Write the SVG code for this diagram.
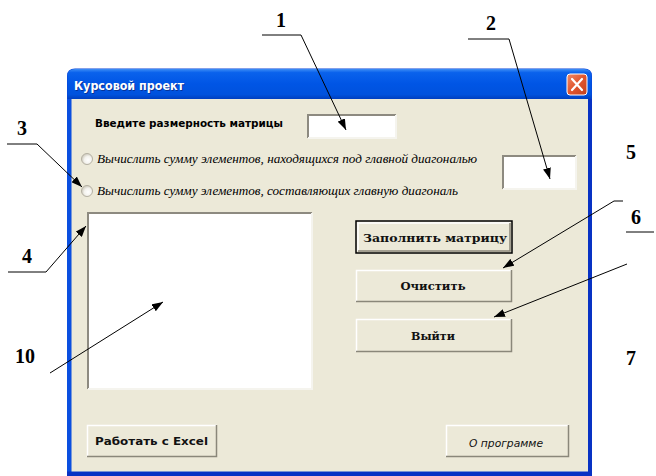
<svg xmlns="http://www.w3.org/2000/svg" width="656" height="476" viewBox="0 0 656 476">
<defs>
<linearGradient id="tb" x1="0" y1="0" x2="0" y2="1">
<stop offset="0" stop-color="#3D8DF5"/>
<stop offset="0.12" stop-color="#0A62EC"/>
<stop offset="0.5" stop-color="#0055E5"/>
<stop offset="0.85" stop-color="#0052DD"/>
<stop offset="1" stop-color="#003FBF"/>
</linearGradient>
<linearGradient id="cb" x1="0" y1="0" x2="1" y2="1">
<stop offset="0" stop-color="#F08B68"/>
<stop offset="0.5" stop-color="#E0552E"/>
<stop offset="1" stop-color="#C2401C"/>
</linearGradient>
<radialGradient id="rg" cx="0.6" cy="0.6" r="0.6">
<stop offset="0" stop-color="#FFFFFF"/>
<stop offset="0.55" stop-color="#F4F3EE"/>
<stop offset="1" stop-color="#CFCBBE"/>
</radialGradient>
<marker id="ah" markerUnits="userSpaceOnUse" markerWidth="11" markerHeight="8" refX="11" refY="4" orient="auto">
<path d="M0,0 L11,4 L0,8 z" fill="#000"/>
</marker>
<style>
.num{font-family:"Liberation Serif","Times New Roman",serif;font-weight:bold;font-size:20px;fill:#000;text-anchor:middle}
.lead{fill:none;stroke:#000;stroke-width:1}
.face{fill:#ECE9D8}
.hi{stroke:#FFFFFF;stroke-width:1.5;fill:none}
.sh{stroke:#8A877A;stroke-width:1.5;fill:none}
.btxt{font-family:"DejaVu Serif","Liberation Serif",serif;font-weight:bold;font-size:11px;fill:#111;text-anchor:middle}
.inbox{fill:#FFFFFF}
.intl{stroke:#8D8A80;stroke-width:2;fill:none}
.inbr{stroke:#F5F4EE;stroke-width:2;fill:none}
.rtxt{font-family:"Liberation Serif","Times New Roman",serif;font-style:italic;font-size:12px;fill:#000}
</style>
</defs>

<g id="window">
<path d="M67,476 L67,76 Q67,68.5 75,68.5 L584,68.5 Q592,68.5 592,76 L592,476 Z" fill="#0842D6"/>
<path d="M67.5,99 L67.5,76 Q67.5,69 75,69 L584,69 Q591.5,69 591.5,76 L591.5,99 Z" fill="url(#tb)"/>
<rect x="67" y="99" width="4.5" height="377" fill="#0A4FE0"/>
<rect x="588" y="99" width="4" height="377" fill="#0832C4"/>
<rect x="67" y="471.5" width="525" height="4.5" fill="#0832C4"/>
<rect x="71.5" y="99" width="516.5" height="372.5" fill="#ECE9D8"/>
</g>

<g id="title-bar">
<text x="75" y="91" font-family="DejaVu Sans,Verdana,sans-serif" font-weight="bold" font-size="12.5" fill="#0A1E6A" opacity="0.6" textLength="110" lengthAdjust="spacingAndGlyphs">Курсовой проект</text>
<text x="74" y="90" font-family="DejaVu Sans,Verdana,sans-serif" font-weight="bold" font-size="12.5" fill="#FFFFFF" textLength="110" lengthAdjust="spacingAndGlyphs">Курсовой проект</text>
</g>

<g id="close-button">
<rect x="567" y="74" width="20" height="21" rx="3" fill="url(#cb)" stroke="#FFFFFF" stroke-width="1"/>
<path d="M572,79 L582,90 M582,79 L572,90" stroke="#FFFFFF" stroke-width="2.2" stroke-linecap="round"/>
</g>

<g id="size-label">
<text x="95" y="127" font-family="DejaVu Sans,Verdana,sans-serif" font-weight="bold" font-size="11" fill="#000" textLength="188" lengthAdjust="spacingAndGlyphs">Введите размерность матрицы</text>
</g>

<g id="size-input">
<rect class="inbox" x="308" y="115" width="88" height="23"/>
<path class="intl" d="M308,138 L308,115 L396,115"/>
<path class="inbr" d="M396,115 L396,138 L308,138"/>
</g>

<g id="radio-below">
<circle cx="87" cy="159" r="5.5" fill="url(#rg)" stroke="#B5B1A3" stroke-width="1"/>
<text class="rtxt" x="97" y="163" textLength="380" lengthAdjust="spacingAndGlyphs">Вычислить сумму элементов, находящихся под главной диагональю</text>
</g>

<g id="radio-diagonal">
<circle cx="87" cy="191" r="5.5" fill="url(#rg)" stroke="#B5B1A3" stroke-width="1"/>
<text class="rtxt" x="97" y="195" textLength="361" lengthAdjust="spacingAndGlyphs">Вычислить сумму элементов, составляющих главную диагональ</text>
</g>

<g id="result-input">
<rect class="inbox" x="503" y="156" width="73" height="33"/>
<path class="intl" d="M503,189 L503,156 L576,156"/>
<path class="inbr" d="M576,156 L576,189 L503,189"/>
</g>

<g id="listbox">
<rect class="inbox" x="88" y="213" width="224" height="176"/>
<path class="intl" d="M88,389 L88,213 L312,213"/>
<path class="inbr" d="M312,213 L312,389 L88,389"/>
</g>

<g id="btn-fill">
<rect x="356" y="221" width="156" height="32" fill="#ECE9D8" stroke="#000" stroke-width="1.5"/>
<path class="hi" d="M358,251 L358,223 L510,223"/>
<path class="sh" d="M510,223 L510,251 L358,251"/>
<text class="btxt" x="435" y="242" textLength="144" lengthAdjust="spacingAndGlyphs">Заполнить матрицу</text>
</g>

<g id="btn-clear">
<rect class="face" x="356" y="270" width="156" height="32"/>
<path class="hi" d="M356.5,302 L356.5,270.5 L512,270.5"/>
<path class="sh" d="M511.5,270 L511.5,301.5 L356,301.5"/>
<text class="btxt" x="433" y="290" textLength="65" lengthAdjust="spacingAndGlyphs">Очистить</text>
</g>

<g id="btn-exit">
<rect class="face" x="356" y="319" width="156" height="33"/>
<path class="hi" d="M356.5,352 L356.5,319.5 L512,319.5"/>
<path class="sh" d="M511.5,319 L511.5,351.5 L356,351.5"/>
<text class="btxt" x="433" y="340" textLength="44" lengthAdjust="spacingAndGlyphs">Выйти</text>
</g>

<g id="btn-excel">
<rect class="face" x="87" y="425" width="130" height="32"/>
<path class="hi" d="M87.5,457 L87.5,425.5 L217,425.5"/>
<path class="sh" d="M216.5,425 L216.5,456.5 L87,456.5"/>
<text x="95" y="445" font-family="DejaVu Sans,Verdana,sans-serif" font-weight="bold" font-size="11" fill="#111" textLength="113" lengthAdjust="spacingAndGlyphs">Работать с Excel</text>
</g>

<g id="btn-about">
<rect class="face" x="446" y="425" width="123" height="32"/>
<path class="hi" d="M446.5,457 L446.5,425.5 L569,425.5"/>
<path class="sh" d="M568.5,425 L568.5,456.5 L446,456.5"/>
<text x="469" y="447" font-family="DejaVu Sans,Verdana,sans-serif" font-style="italic" font-size="11" fill="#111" textLength="74" lengthAdjust="spacingAndGlyphs">О программе</text>
</g>

<g id="labels">
<text class="num" x="281" y="27">1</text>
<text class="num" x="491" y="30">2</text>
<text class="num" x="22" y="135">3</text>
<text class="num" x="27" y="263">4</text>
<text class="num" x="631" y="159">5</text>
<text class="num" x="636" y="224">6</text>
<text class="num" x="631" y="365">7</text>
<text class="num" x="25" y="363">10</text>
</g>

<g id="connectors">
<polyline class="lead" points="262,35 301,35 346,130" marker-end="url(#ah)"/>
<polyline class="lead" points="468,39 509,39 550,179" marker-end="url(#ah)"/>
<polyline class="lead" points="7,144 37,144 82,187" marker-end="url(#ah)"/>
<polyline class="lead" points="8,272 46,272 86,226" marker-end="url(#ah)"/>
<line class="lead" x1="50" y1="373" x2="163" y2="302" marker-end="url(#ah)"/>
<polyline class="lead" points="623,201 614,201 503,268" marker-end="url(#ah)"/>
<line class="lead" x1="627" y1="264" x2="494" y2="317" marker-end="url(#ah)"/>
<line class="lead" x1="626" y1="232" x2="654" y2="232"/>
</g>
</svg>
